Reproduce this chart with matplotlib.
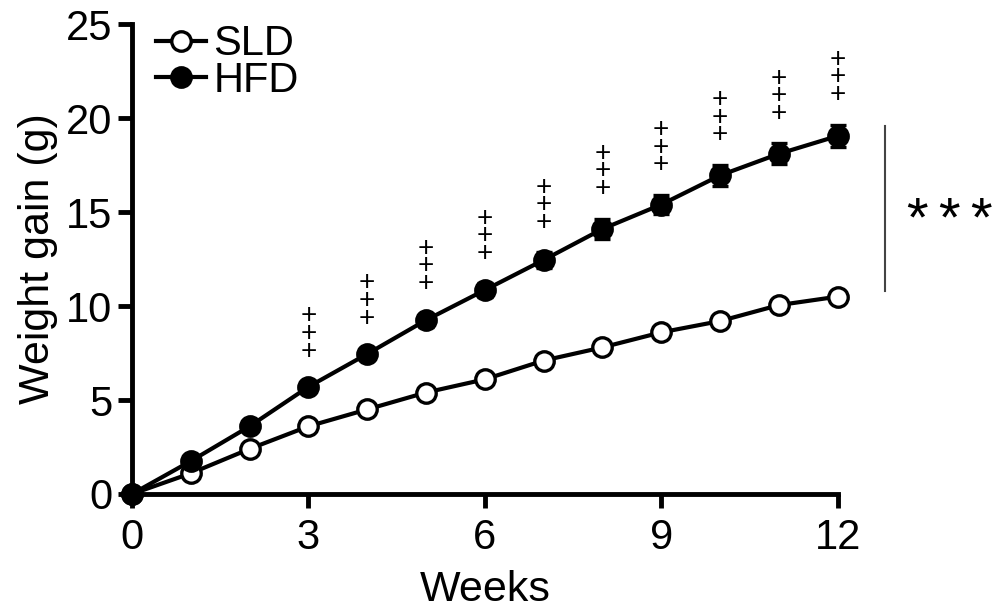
import numpy as np
import matplotlib
matplotlib.use('Agg')
import matplotlib.pyplot as plt
from matplotlib.lines import Line2D

plt.rcParams['font.family'] = ['Liberation Sans', 'DejaVu Sans']

# data
weeks = [0, 1, 2, 3, 4, 5, 6, 7, 8, 9, 10, 11, 12]
sld = [0, 1.1, 2.4, 3.6, 4.5, 5.4, 6.1, 7.1, 7.8, 8.6, 9.2, 10.05, 10.5]
sld_err = [0, 0.1, 0.15, 0.2, 0.2, 0.25, 0.25, 0.25, 0.3, 0.3, 0.3, 0.3, 0.3]
hfd = [0, 1.75, 3.6, 5.7, 7.45, 9.25, 10.85, 12.45, 14.1, 15.4, 16.95, 18.1, 19.05]
hfd_err = [0, 0.15, 0.2, 0.3, 0.3, 0.35, 0.35, 0.4, 0.55, 0.5, 0.55, 0.55, 0.6]
plus_weeks = [3, 4, 5, 6, 7, 8, 9, 10, 11, 12]

fig = plt.figure(figsize=(9.96, 6.11), dpi=100)
ax = fig.add_axes([0.1325, 0.1915, 0.7085, 0.769])

lw = 3.0
ax.errorbar(weeks, sld, yerr=sld_err, color='black', lw=lw, marker='o', ms=14,
            mfc='white', mec='black', mew=2.4, capsize=6, capthick=3, elinewidth=3,
            clip_on=False, zorder=3)
ax.errorbar(weeks, hfd, yerr=hfd_err, color='black', lw=lw, marker='o', ms=14,
            mfc='black', mec='black', mew=2.4, capsize=6, capthick=3, elinewidth=3,
            clip_on=False, zorder=4)

# +++ markers above HFD points
for w in plus_weeks:
    top = hfd[w] + hfd_err[w]
    ax.annotate('+\n+\n+', xy=(w, top), xytext=(0, 12), textcoords='offset points',
                ha='center', va='bottom', fontsize=20, linespacing=0.58,
                annotation_clip=False)

# significance bracket
ax.plot([12.8, 12.8], [19.6, 10.8], color='#444444', lw=1.5, clip_on=False)
for k in range(3):
    ax.annotate('*', xy=(13.35, 15.1), xytext=(k * 23, -8), textcoords='offset points',
                fontsize=40, ha='center', va='center', annotation_clip=False)

ax.set_xlim(0, 12)
ax.set_ylim(0, 25)
ax.set_xticks([0, 3, 6, 9, 12])
ax.set_yticks([0, 5, 10, 15, 20, 25])
ax.spines['top'].set_visible(False)
ax.spines['right'].set_visible(False)
for s in ['left', 'bottom']:
    ax.spines[s].set_linewidth(3.5)
ax.tick_params(width=3.5, length=10, labelsize=30, pad=4)
ax.tick_params(axis='x', pad=7)
ax.set_xlabel('Weeks', fontsize=31, labelpad=9)
ax.set_ylabel('Weight gain (g)', fontsize=31, labelpad=6)

handles = [
    Line2D([], [], color='black', lw=lw, marker='o', ms=14, mfc='white', mec='black', mew=2.4),
    Line2D([], [], color='black', lw=lw, marker='o', ms=14, mfc='black', mec='black', mew=2.4),
]
ax.legend(handles, ['SLD', 'HFD'], loc='upper left', bbox_to_anchor=(0.01, 1.035),
          frameon=False, fontsize=30, handlelength=1.2, handletextpad=0.18,
          labelspacing=-0.08, borderaxespad=0)

fig.savefig('out.png', dpi=100)
